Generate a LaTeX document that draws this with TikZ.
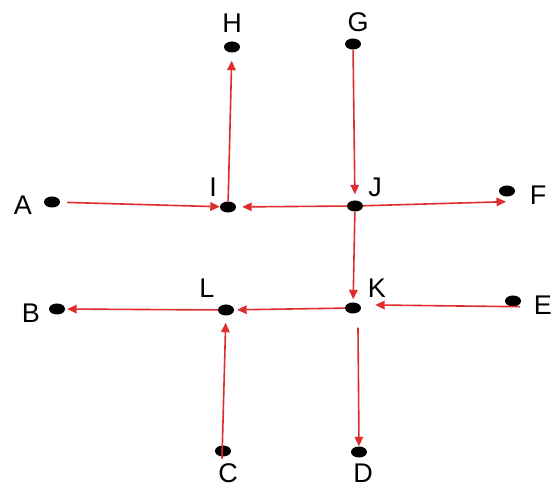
\documentclass[tikz,border=0pt]{standalone}
\usepackage{fontspec}
\setmainfont{Liberation Sans}
\usetikzlibrary{arrows.meta,shapes.geometric,calc}
\definecolor{arrred}{RGB}{222,45,45}
\begin{document}
\begin{tikzpicture}[x=1pt,y=-1pt,
  dot/.style={ellipse,fill=black,minimum width=16pt,minimum height=11pt,inner sep=0pt},
  lbl/.style={font=\fontsize{27}{27}\selectfont,inner sep=0pt},
  arr/.style={draw=arrred,line width=1.6pt,-{Triangle[length=9.5pt,width=8.5pt]}}]
\useasboundingbox (0,0) rectangle (555,489);
\fill[white] (0,0) rectangle (555,489);
% dots
\node[dot] (H) at (232,47) {};
\node[dot] (G) at (353,44) {};
\node[dot] (A) at (52,202) {};
\node[dot] (I) at (228,207) {};
\node[dot] (J) at (355,206) {};
\node[dot] (F) at (507,191) {};
\node[dot] (B) at (57,309) {};
\node[dot] (L) at (226,310) {};
\node[dot] (K) at (353,308) {};
\node[dot] (E) at (513,301) {};
\node[dot] (C) at (223,451) {};
\node[dot] (D) at (359,452) {};
% labels
\node[lbl] (lH) at (232,23) {H};
\node[lbl] (lG) at (358,22) {G};
\node[lbl] (lA) at (23,205) {A};
\node[lbl] (lI) at (213,187) {I};
\node[lbl] (lJ) at (375,187) {J};
\node[lbl] (lF) at (538,195) {F};
\node[lbl] (lB) at (31,313) {B};
\node[lbl] (lL) at (207,288) {L};
\node[lbl] (lK) at (377,288) {K};
\node[lbl] (lE) at (543,305) {E};
\node[lbl] (lC) at (228,473) {C};
\node[lbl] (lD) at (363,473) {D};
% arrows
\draw[arr,shorten >=8pt] (I) -- (H);
\draw[arr,shorten >=6pt] (G) -- (J);
\draw[arr,shorten <=7pt] (A) -- (I);
\draw[arr,shorten >=6pt] (J) -- (I);
\draw[arr] (J) -- ($(F.south)+(-1,5)$);
\draw[arr,shorten >=3pt] (J) -- (K);
\draw[arr] ($(E.south)+(7,0)$) -- ($(K.east)+(14,-3)$);
\draw[arr,shorten >=3pt] (K) -- (L);
\draw[arr,shorten >=2pt] (L) -- (B);
\draw[arr,shorten >=7pt] ($(C.south)+(-1,2)$) -- (L);
\draw[arr] ($(K.south)+(5,14)$) -- (D.north);
\end{tikzpicture}
\end{document}
